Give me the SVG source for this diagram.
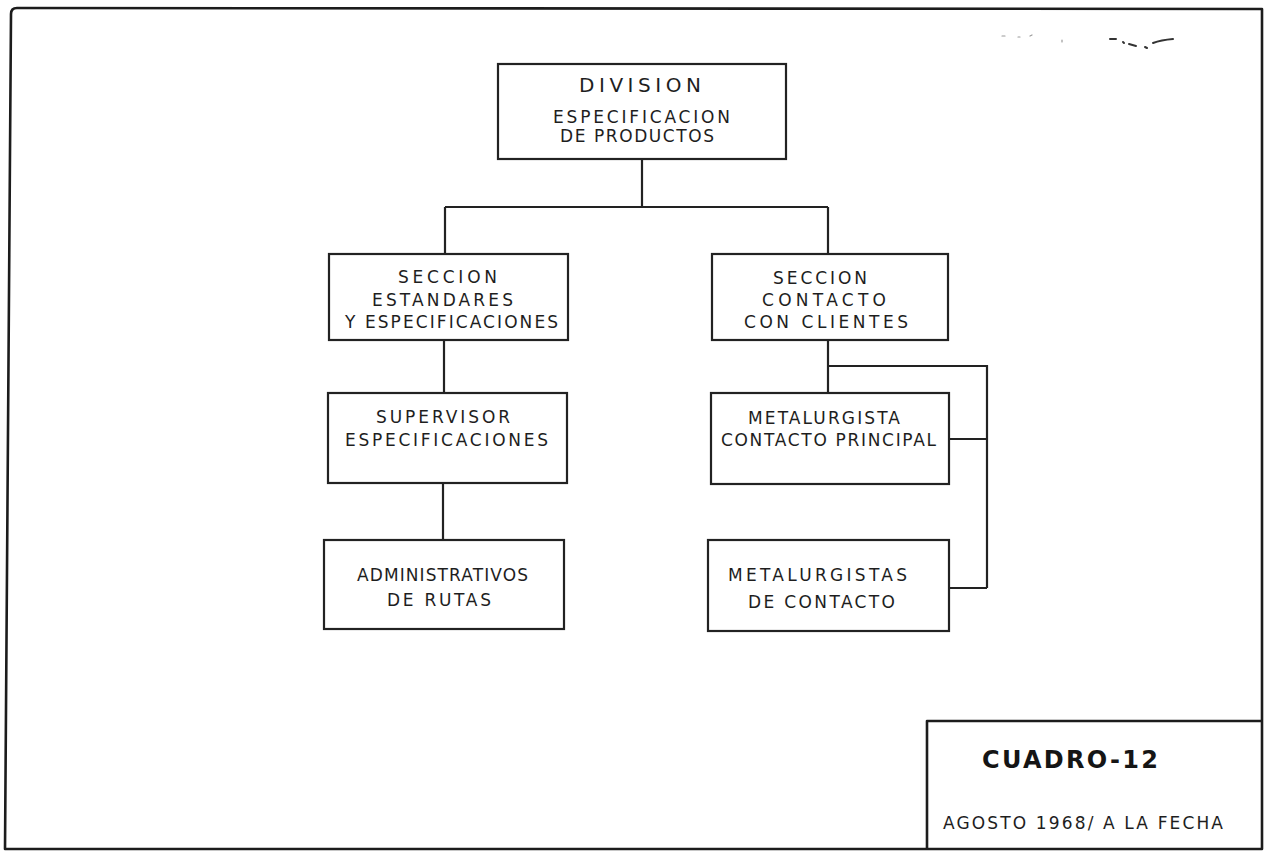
<svg xmlns="http://www.w3.org/2000/svg" width="1270" height="852" viewBox="0 0 1270 852">
  <style>
    .frame { fill: none; stroke: #1c1c1c; stroke-width: 2.6; stroke-linejoin: round; }
    .box { fill: #ffffff; stroke: #222222; stroke-width: 2.2; }
    .link { fill: none; stroke: #222222; stroke-width: 2.2; }
    .lbl { font-family: "DejaVu Sans", "Liberation Sans", sans-serif; font-size: 17px; fill: #1e1e1e; }
    .big { font-size: 20px; }
    .title { font-family: "DejaVu Sans", "Liberation Sans", sans-serif; font-size: 24px; font-weight: bold; fill: #151515; }
    .date { font-family: "DejaVu Sans", "Liberation Sans", sans-serif; font-size: 17px; fill: #1e1e1e; }
    .speck { fill: none; stroke: #333333; stroke-width: 2; stroke-linecap: round; }
    .faint { fill: none; stroke: #9a9a9a; stroke-width: 1.2; stroke-linecap: round; }
  </style>

  <rect width="1270" height="852" fill="#ffffff"/>

  <!-- sheet frame -->
  <path class="frame" d="M 11 14 Q 11 8 17 8 L 1262 9 L 1262 849 L 5 849 L 11 14 Z"/>

  <!-- pencil marks near the upper right corner -->
  <g id="marks">
    <path class="faint" d="M 1002 36 l 3 0 M 1018 37 l 2 0 M 1030 36 l 2 -1 M 1062 40 l 0 2"/>
    <path class="speck" d="M 1110 39 l 6 0 M 1123 42 l 1 1 M 1129 44 l 7 2 M 1145 47 l 2 1 M 1153 43 q 8 -3 20 -4"/>
  </g>

  <!-- connectors -->
  <g id="connectors">
    <path class="link" d="M 642 159 L 642 207 M 445 207 L 828 207 M 445 207 L 445 254 M 828 207 L 828 254"/>
    <path class="link" d="M 444 340 L 444 393"/>
    <path class="link" d="M 443 483 L 443 540"/>
    <path class="link" d="M 828 340 L 828 393 M 828 366 L 987 366 L 987 588 M 949 439 L 987 439 M 949 588 L 987 588"/>
  </g>

  <g id="division">
    <rect class="box" x="498" y="64" width="288" height="95"/>
    <text class="lbl big" x="579" y="92" textLength="122" lengthAdjust="spacing">DIVISION</text>
    <text class="lbl" x="553" y="123" textLength="177" lengthAdjust="spacing">ESPECIFICACION</text>
    <text class="lbl" x="560" y="142" textLength="154" lengthAdjust="spacing">DE PRODUCTOS</text>
  </g>

  <g id="seccion-estandares">
    <rect class="box" x="329" y="254" width="239" height="86"/>
    <text class="lbl" x="398" y="283" textLength="99" lengthAdjust="spacing">SECCION</text>
    <text class="lbl" x="372" y="306" textLength="141" lengthAdjust="spacing">ESTANDARES</text>
    <text class="lbl" x="345" y="328" textLength="213" lengthAdjust="spacing">Y ESPECIFICACIONES</text>
  </g>

  <g id="seccion-contacto">
    <rect class="box" x="712" y="254" width="236" height="86"/>
    <text class="lbl" x="773" y="284" textLength="94" lengthAdjust="spacing">SECCION</text>
    <text class="lbl" x="762" y="306" textLength="124" lengthAdjust="spacing">CONTACTO</text>
    <text class="lbl" x="744" y="328" textLength="164" lengthAdjust="spacing">CON CLIENTES</text>
  </g>

  <g id="supervisor">
    <rect class="box" x="328" y="393" width="239" height="90"/>
    <text class="lbl" x="376" y="423" textLength="134" lengthAdjust="spacing">SUPERVISOR</text>
    <text class="lbl" x="345" y="446" textLength="203" lengthAdjust="spacing">ESPECIFICACIONES</text>
  </g>

  <g id="metalurgista-principal">
    <rect class="box" x="711" y="393" width="238" height="91"/>
    <text class="lbl" x="748" y="424" textLength="152" lengthAdjust="spacing">METALURGISTA</text>
    <text class="lbl" x="721" y="446" textLength="215" lengthAdjust="spacing">CONTACTO PRINCIPAL</text>
  </g>

  <g id="administrativos">
    <rect class="box" x="324" y="540" width="240" height="89"/>
    <text class="lbl" x="357" y="581" textLength="171" lengthAdjust="spacing">ADMINISTRATIVOS</text>
    <text class="lbl" x="387" y="606" textLength="104" lengthAdjust="spacing">DE RUTAS</text>
  </g>

  <g id="metalurgistas-contacto">
    <rect class="box" x="708" y="540" width="241" height="91"/>
    <text class="lbl" x="728" y="581" textLength="179" lengthAdjust="spacing">METALURGISTAS</text>
    <text class="lbl" x="748" y="608" textLength="147" lengthAdjust="spacing">DE CONTACTO</text>
  </g>

  <!-- title block -->
  <g id="cuadro">
    <path class="frame" d="M 927 849 L 927 721 L 1262 721"/>
    <text class="title" x="982" y="768" textLength="176" lengthAdjust="spacing">CUADRO-12</text>
    <text class="date" x="943" y="829" textLength="280" lengthAdjust="spacing">AGOSTO 1968/ A LA FECHA</text>
  </g>
</svg>
